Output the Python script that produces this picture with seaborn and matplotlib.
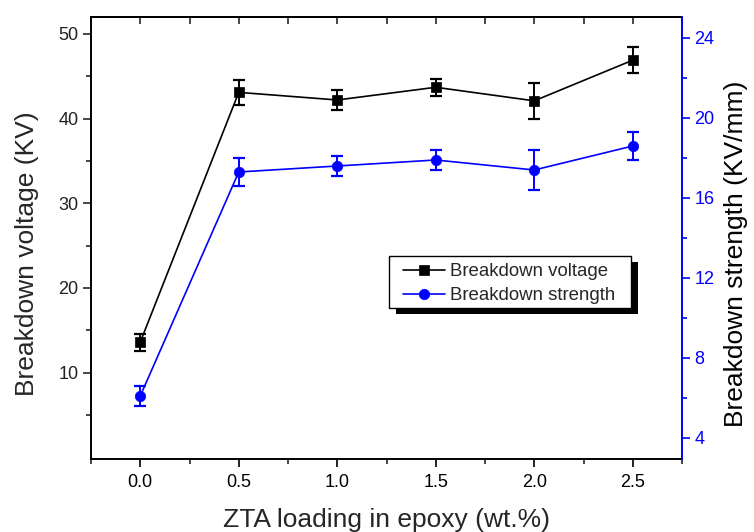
import matplotlib
matplotlib.use('Agg')
import matplotlib.pyplot as plt
import seaborn as sns
import pandas as pd
from matplotlib.ticker import FixedLocator, MultipleLocator
from matplotlib.patches import Rectangle

# ---- data ----
loading = [0.0, 0.5, 1.0, 1.5, 2.0, 2.5]
voltage = [13.6, 43.1, 42.2, 43.7, 42.1, 46.9]
voltage_err = [1.0, 1.5, 1.2, 1.0, 2.1, 1.5]
strength = [6.1, 17.3, 17.6, 17.9, 17.4, 18.6]
strength_err = [0.5, 0.7, 0.5, 0.5, 1.0, 0.7]
left_ticks = [10, 20, 30, 40, 50]
right_ticks = [4, 8, 12, 16, 20, 24]
series_names = ['Breakdown voltage', 'Breakdown strength']

sns.set_style('ticks')
plt.rcParams['font.family'] = ['Liberation Sans', 'DejaVu Sans']

df = pd.DataFrame({'loading': loading, 'voltage': voltage, 'strength': strength})

fig = plt.figure(figsize=(7.54, 5.32), dpi=100)
ax = fig.add_axes([91 / 754, (532 - 459) / 532, (682 - 91) / 754, (459 - 17) / 532])
ax2 = ax.twinx()

BLUE = '#0000ff'

sns.lineplot(data=df, x='loading', y='voltage', ax=ax, color='black', marker='s',
             markersize=7.5, markeredgecolor='black', markeredgewidth=0.5,
             linewidth=1.2, legend=False)
ax.errorbar(loading, voltage, yerr=voltage_err, fmt='none', ecolor='black',
            elinewidth=1.4, capsize=4, capthick=1.6)

sns.lineplot(data=df, x='loading', y='strength', ax=ax2, color=BLUE, marker='o',
             markersize=7.5, markeredgecolor=BLUE, markeredgewidth=0.5,
             linewidth=1.2, legend=False)
ax2.errorbar(loading, strength, yerr=strength_err, fmt='none', ecolor=BLUE,
             elinewidth=1.4, capsize=4, capthick=1.6)

# axes limits / ticks
ax.set_xlim(-0.25, 2.75)
ax.set_ylim(-0.2, 52.0)
ax2.set_ylim(2.95, 25.05)

ax.xaxis.set_minor_locator(MultipleLocator(0.25))
ax.set_xticks(loading)
ax.set_xticklabels([f'{v:.1f}' for v in loading])
ax.yaxis.set_major_locator(FixedLocator(left_ticks))
ax.yaxis.set_minor_locator(FixedLocator([5, 15, 25, 35, 45]))
ax2.yaxis.set_major_locator(FixedLocator(right_ticks))
ax2.yaxis.set_minor_locator(FixedLocator([6, 10, 14, 18, 22]))

ax.tick_params(axis='x', which='major', direction='out', length=6, width=1.2,
               labelsize=13, pad=5, top=False, colors='black')
ax.tick_params(axis='x', which='minor', direction='out', length=3.5, width=1.2, top=False)
ax.tick_params(axis='y', which='major', direction='out', length=6, width=1.2,
               labelsize=13, pad=3, labelcolor='#222222')
ax.tick_params(axis='y', which='minor', direction='out', length=3.5, width=1.2)
ax2.tick_params(axis='y', which='major', direction='out', length=6, width=1.2,
                labelsize=13, pad=3, colors=BLUE)
ax2.tick_params(axis='y', which='minor', direction='out', length=3.5, width=1.2, colors=BLUE)

sec = ax.secondary_xaxis('top')
sec.xaxis.set_major_locator(MultipleLocator(0.25))
sec.tick_params(direction='in', length=5, width=1.2, labeltop=False)
sec.spines['top'].set_linewidth(1.4)

for s in ['left', 'bottom', 'top']:
    ax.spines[s].set_linewidth(1.4)
    ax.spines[s].set_color('black')
ax2.spines['right'].set_color(BLUE)
ax2.spines['right'].set_linewidth(1.4)
ax.spines['right'].set_visible(False)
ax2.spines['left'].set_visible(False)
ax2.spines['top'].set_visible(False)
ax2.spines['bottom'].set_visible(False)

ax.set_xlabel('ZTA loading in epoxy (wt.%)', fontsize=19, labelpad=12)
ax.set_ylabel('Breakdown voltage (KV)', fontsize=19)
ax2.set_ylabel('Breakdown strength (KV/mm)', fontsize=19, color='black')
ax.yaxis.set_label_coords(-0.088, 0.464)
ax2.yaxis.set_label_coords(1.071, 0.464)

h1 = ax.get_lines()[0]
h2 = ax2.get_lines()[0]
leg = ax2.legend([h1, h2], series_names, loc='upper left',
                 bbox_to_anchor=((403 - 91) / 591, (459 - 263) / 442),
                 borderaxespad=0, frameon=False, fontsize=13.4, handlelength=2.26,
                 labelspacing=0.40, borderpad=0, handletextpad=0.27)
leg.set_zorder(10)

fig.canvas.draw()
bb = leg.get_window_extent()
pad_top, pad_bot = 7, 3
fx0, fy0 = bb.x0 - 14, bb.y0 - pad_bot
fw, fh = bb.width + 30, bb.height + pad_top + pad_bot
shadow = Rectangle((fx0 + 7, fy0 - 6), fw, fh, transform=None,
                   facecolor='black', edgecolor='none', zorder=8, clip_on=False)
frame = Rectangle((fx0, fy0), fw, fh, transform=None, facecolor='white',
                  edgecolor='black', linewidth=1.0, zorder=9, clip_on=False)
ax2.add_artist(shadow)
ax2.add_artist(frame)

fig.savefig('out.png', dpi=100)
